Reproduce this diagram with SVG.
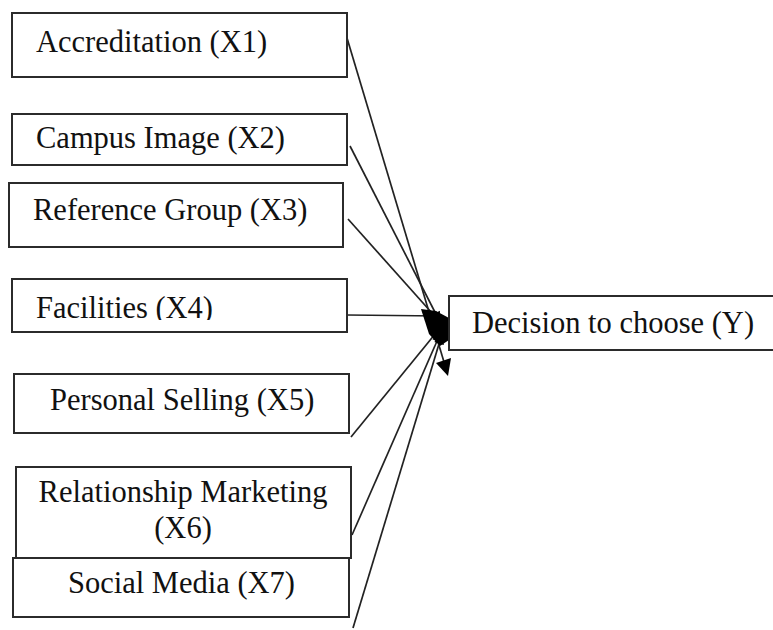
<svg xmlns="http://www.w3.org/2000/svg" width="773" height="630" viewBox="0 0 773 630">
<defs>
<style>
.box{fill:#fff;stroke:#2b2b2b;stroke-width:2}
.lbl{font-family:"Liberation Serif","Times New Roman",serif;font-size:30.5px;fill:#111}
.edge{stroke:#222;stroke-width:1.7;fill:none;marker-end:url(#ah)}
</style>
<marker id="ah" viewBox="0 0 10 10" refX="10" refY="5" markerWidth="11" markerHeight="10" markerUnits="userSpaceOnUse" orient="auto">
<path d="M0,0 L10,5 L0,10 Z" fill="#000"/>
</marker>
<clipPath id="c2"><rect x="12" y="114" width="335" height="41"/></clipPath>
<clipPath id="c4"><rect x="12" y="279" width="335" height="41"/></clipPath>
</defs>
<rect width="773" height="630" fill="#fff"/>
<g id="connectors">
<line x1="347" y1="38" x2="444" y2="362" stroke="#222" stroke-width="1.7"/>
<path d="M448,376 L451,358 L436,363 Z" fill="#000"/>
<line class="edge" x1="350" y1="146" x2="440" y2="322"/>
<line class="edge" x1="348" y1="219" x2="440" y2="322"/>
<line class="edge" x1="347" y1="315" x2="440" y2="316"/>
<line class="edge" x1="351" y1="437" x2="440" y2="328"/>
<line class="edge" x1="352" y1="535" x2="441" y2="332"/>
<line class="edge" x1="353" y1="628" x2="442" y2="334"/>
<path d="M421,309 L436,311 L449,318 L449,340 L440,346 L429,334 Z" fill="#000"/>
</g>
<g id="x1"><rect class="box" x="12" y="13" width="335" height="64"/><text class="lbl" x="36" y="52">Accreditation (X1)</text></g>
<g id="x2"><rect class="box" x="12" y="114" width="335" height="51"/><text class="lbl" x="36" y="148" clip-path="url(#c2)">Campus Image (X2)</text></g>
<g id="x3"><rect class="box" x="9" y="183" width="334" height="64"/><text class="lbl" x="33" y="220">Reference Group (X3)</text></g>
<g id="x4"><rect class="box" x="12" y="279" width="335" height="53"/><text class="lbl" x="36" y="318" clip-path="url(#c4)">Facilities (X4)</text></g>
<g id="x5"><rect class="box" x="14" y="374" width="335" height="59"/><text class="lbl" x="50" y="410">Personal Selling (X5)</text></g>
<g id="x6"><rect class="box" x="16" y="467" width="335" height="91"/><text class="lbl" x="183" y="502" text-anchor="middle">Relationship Marketing</text><text class="lbl" x="183" y="538" text-anchor="middle">(X6)</text></g>
<g id="x7"><rect class="box" x="13" y="558" width="336" height="59"/><text class="lbl" x="68" y="593">Social Media (X7)</text></g>
<g id="y"><rect class="box" x="449" y="296" width="330" height="54"/><text class="lbl" x="472" y="333">Decision to choose (Y)</text></g>
</svg>
